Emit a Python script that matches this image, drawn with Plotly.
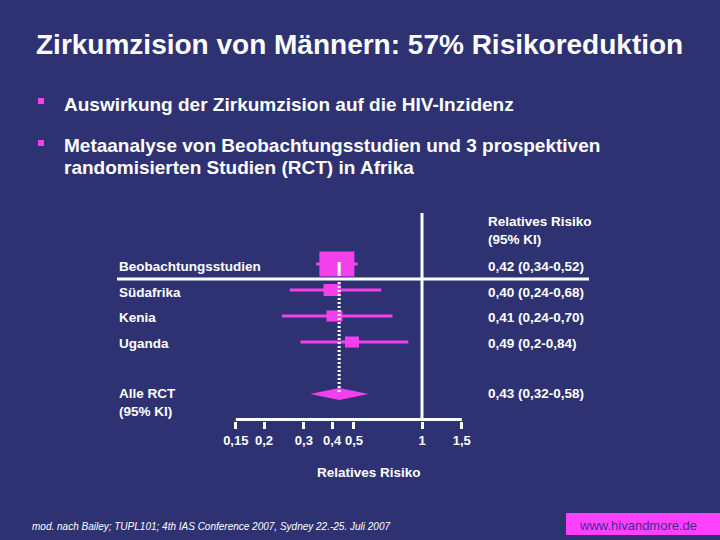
import math
import plotly.graph_objects as go

# ---------------- data ----------------
studies = ["Beobachtungsstudien", "Südafrika", "Kenia", "Uganda", "Alle RCT<br>(95% KI)"]
rr = [0.42, 0.40, 0.41, 0.49, 0.43]
ci_lo = [0.34, 0.26, 0.24, 0.29, 0.32]
ci_hi = [0.52, 0.66, 0.74, 0.87, 0.58]
rr_labels = ["0,42 (0,34-0,52)", "0,40 (0,24-0,68)", "0,41 (0,24-0,70)",
             "0,49 (0,2-0,84)", "0,43 (0,32-0,58)"]
tick_vals = [0.15, 0.2, 0.3, 0.4, 0.5, 1, 1.5]
tick_text = ["0,15", "0,2", "0,3", "0,4", "0,5", "1", "1,5"]

# ---------------- layout / style ----------------
W, H = 720, 540
BG = "rgb(46,50,115)"
PINK = "#F43FEC"
WHITE = "white"
FONT = "Liberation Sans"
PX_PER_DECADE = 226
X1_PX = 422  # pixel of RR = 1
PLOT_H = 421
row_y = [264, 290, 316, 342, 394]
box_hw = [17.5, 8.5, 8, 7, None]   # half width px
box_hh = [12.5, 6, 5.5, 5.5, 6]    # half height px

x_range = [-X1_PX / PX_PER_DECADE, (W - X1_PX) / PX_PER_DECADE]

def scale(v, px):
    return v * 10 ** (px / PX_PER_DECADE)

def py(p):  # pixel y -> paper y
    return (PLOT_H - p) / PLOT_H

fig = go.Figure()

# reference line RR = 1
fig.add_trace(go.Scatter(x=[1, 1], y=[213, 419], mode="lines",
                         line=dict(color=WHITE, width=3), hoverinfo="skip"))

# axis line
fig.add_trace(go.Scatter(x=[tick_vals[0], tick_vals[-1]], y=[419.5, 419.5], mode="lines",
                         line=dict(color=WHITE, width=3), hoverinfo="skip"))

# CI lines
for i in range(4):
    fig.add_trace(go.Scatter(x=[ci_lo[i], ci_hi[i]], y=[row_y[i], row_y[i]], mode="lines",
                             line=dict(color=PINK, width=3), hoverinfo="skip"))

# boxes
for i in range(4):
    x0, x1 = scale(rr[i], -box_hw[i]), scale(rr[i], box_hw[i])
    y0, y1 = row_y[i] - box_hh[i], row_y[i] + box_hh[i]
    fig.add_trace(go.Scatter(x=[x0, x1, x1, x0, x0], y=[y0, y0, y1, y1, y0], mode="lines",
                             fill="toself", fillcolor=PINK, line=dict(color=PINK, width=0),
                             hoverinfo="skip"))

# diamond for pooled RCT
i = 4
fig.add_trace(go.Scatter(x=[ci_lo[i], rr[i], ci_hi[i], rr[i], ci_lo[i]],
                         y=[row_y[i], row_y[i] - box_hh[i], row_y[i], row_y[i] + box_hh[i], row_y[i]],
                         mode="lines", fill="toself", fillcolor=PINK,
                         line=dict(color=PINK, width=0), hoverinfo="skip"))

# summary line (pooled estimate)
fig.add_trace(go.Scatter(x=[rr[4], rr[4]], y=[262, 274], mode="lines",
                         line=dict(color=WHITE, width=3), hoverinfo="skip"))
fig.add_trace(go.Scatter(x=[rr[4], rr[4]], y=[274, 392], mode="lines",
                         line=dict(color=WHITE, width=3, dash="2px,2px"), hoverinfo="skip"))

# horizontal separator
fig.add_shape(type="line", xref="paper", yref="paper", x0=117 / W, x1=589 / W,
              y0=py(279), y1=py(279), line=dict(color=WHITE, width=3))

ann = []
def txt(x, y, s, size=14, color=WHITE, weight="bold", anchor="left", style="normal"):
    ann.append(dict(x=x / W, y=py(y), xref="paper", yref="paper", text=s, showarrow=False,
                    xanchor=anchor, yanchor="middle", align="left",
                    font=dict(family=FONT, size=size, color=color, weight=weight, style=style)))

# title & bullets
txt(34, 44, "Zirkumzision von Männern: 57% Risikoreduktion", size=28)
txt(62, 104, "Auswirkung der Zirkumzision auf die HIV-Inzidenz", size=19)
txt(62, 145, "Metaanalyse von Beobachtungsstudien und 3 prospektiven", size=19)
txt(62, 167, "randomisierten Studien (RCT) in Afrika", size=19)
for by in (101, 143):
    fig.add_shape(type="rect", xref="paper", yref="paper", x0=38 / W, x1=44 / W,
                  y0=py(by - 3), y1=py(by + 3), fillcolor=PINK, line=dict(width=0))

# header
txt(486, 221, "Relatives Risiko", size=13.5)
txt(486, 239, "(95% KI)", size=13.5)

# row labels
left_y = [266, 292, 317, 343, 402]
for k in range(5):
    txt(117, left_y[k], studies[k], size=13.5)
    txt(486, left_y[k] if k < 4 else 393, rr_labels[k], size=13.5)

txt(369, 472, "Relatives Risiko", anchor="center", size=13.5)
txt(30, 526, "mod. nach Bailey; TUPL101; 4th IAS Conference 2007, Sydney 22.-25. Juli 2007",
    size=10, weight="normal", style="italic")

fig.add_shape(type="rect", xref="paper", yref="paper", x0=566 / W, x1=1,
              y0=py(535), y1=py(513), fillcolor="#FF40FF", line=dict(width=0))
txt(577, 525, "www.hivandmore.de", size=13, color="#3B2F8F", weight="normal")

fig.update_layout(
    width=W, height=H, margin=dict(l=0, r=0, t=0, b=H - PLOT_H, pad=0),
    paper_bgcolor=BG, plot_bgcolor=BG, showlegend=False,
    annotations=ann,
    xaxis=dict(type="log", range=x_range, tickvals=tick_vals, ticktext=tick_text,
               ticks="outside", ticklen=7, tickwidth=3, tickcolor=WHITE,
               showgrid=False, zeroline=False, showline=False,
               tickfont=dict(family=FONT, size=13, color=WHITE, weight="bold"), fixedrange=True),
    yaxis=dict(range=[PLOT_H, 0], visible=False, showgrid=False, zeroline=False, fixedrange=True),
)

fig.write_html("out.html")
